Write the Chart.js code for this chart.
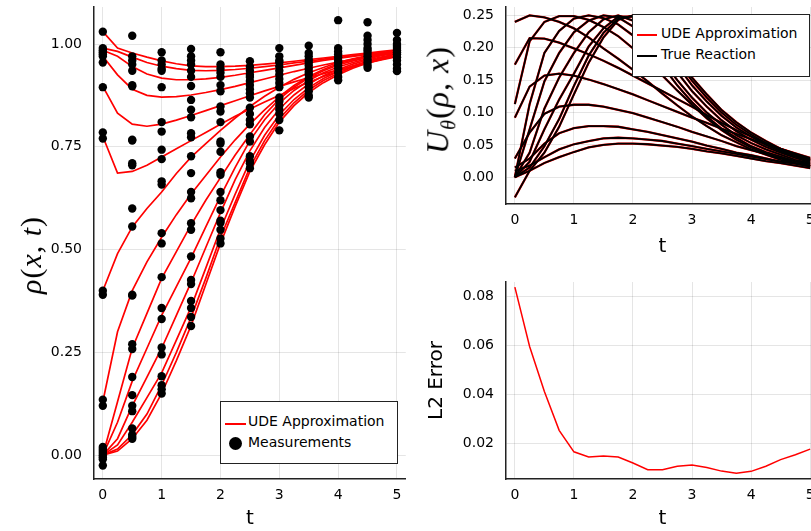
<!DOCTYPE html>
<html>
<head>
<meta charset="utf-8">
<script src="https://cdn.jsdelivr.net/npm/chart.js@4"></script>
<style>
  body { margin: 0; background: #fff; overflow: hidden; }
  #wrap { position: relative; width: 811px; height: 531px; overflow: hidden; background: #fff; }
  canvas { position: absolute; }
  .ytitle { position: absolute; transform: translate(-50%, -50%) rotate(-90deg); white-space: nowrap;
            font-family: "Liberation Serif", serif; color: #000; }
  .ytitle i { font-style: italic; }
  .legend { position: absolute; background: #fff; border: 1px solid #222; font-family: "DejaVu Sans", sans-serif; font-size: 14px; color: #000; }
  .legend span { position: absolute; white-space: nowrap; }
</style>
</head>
<body>
<div id="wrap">
  <canvas id="rhoChart" width="410" height="531" style="left:0;top:0"></canvas>
  <canvas id="uChart" width="411" height="259" style="left:410px;top:0"></canvas>
  <canvas id="errChart" width="411" height="266" style="left:410px;top:265px"></canvas>

  <div class="ytitle" style="left:31px;top:255px;font-size:30px;letter-spacing:1px"><i>ρ</i>(<i>x</i>, <i>t</i>)</div>
  <div class="ytitle" style="left:440px;top:100px;font-size:32px;letter-spacing:1px"><i>U</i><sub style="font-size:20px"><i>θ</i></sub>(<i>ρ</i>, <i>x</i>)</div>

  <div class="legend" style="left:220px;top:401px;width:176px;height:61px">
    <span style="left:4px;top:21px;width:21px;border-top:2px solid #f00"></span>
    <span style="left:27px;top:11px">UDE Approximation</span>
    <span style="left:8px;top:35px;width:13px;height:13px;border-radius:50%;background:#000"></span>
    <span style="left:27px;top:32px">Measurements</span>
  </div>
  <div class="legend" style="left:632px;top:14px;width:176px;height:61px">
    <span style="left:4px;top:19px;width:20px;border-top:2px solid #f00"></span>
    <span style="left:28px;top:10px">UDE Approximation</span>
    <span style="left:4px;top:40px;width:20px;border-top:2px solid #000"></span>
    <span style="left:28px;top:31px">True Reaction</span>
  </div>
</div>

<script>
// time grid of the solutions and of the reaction/error curves
var tGrid = [0, 0.25, 0.5, 0.75, 1, 1.25, 1.5, 1.75, 2, 2.25, 2.5, 2.75, 3, 3.25, 3.5, 3.75, 4, 4.25, 4.5, 4.75, 5];
var tTicks = [0, 1, 2, 3, 4, 5];
var rhoTicks = [0, 0.25, 0.5, 0.75, 1.0];
var uTicks = [0, 0.05, 0.1, 0.15, 0.2, 0.25];
var errTicks = [0.02, 0.04, 0.06, 0.08];

// rho(x,t), one curve per x location
var rhoH1 = [1.03, 0.99, 0.978, 0.968, 0.959, 0.952, 0.947, 0.945, 0.945, 0.946, 0.948, 0.951, 0.954, 0.958, 0.962, 0.966, 0.97, 0.974, 0.978, 0.982, 0.986];
var rhoH2 = [0.99, 0.982, 0.968, 0.955, 0.946, 0.94, 0.936, 0.935, 0.936, 0.938, 0.941, 0.945, 0.949, 0.954, 0.958, 0.963, 0.967, 0.971, 0.975, 0.979, 0.983];
var rhoH3 = [0.985, 0.97, 0.945, 0.927, 0.917, 0.913, 0.913, 0.915, 0.919, 0.924, 0.93, 0.936, 0.942, 0.948, 0.954, 0.96, 0.965, 0.97, 0.975, 0.979, 0.983];
var rhoH4 = [0.97, 0.925, 0.89, 0.875, 0.871, 0.872, 0.876, 0.882, 0.889, 0.897, 0.906, 0.915, 0.924, 0.933, 0.941, 0.949, 0.956, 0.963, 0.969, 0.975, 0.98];
var rhoH5 = [0.897, 0.832, 0.805, 0.80, 0.805, 0.815, 0.826, 0.838, 0.85, 0.862, 0.874, 0.886, 0.897, 0.908, 0.918, 0.928, 0.937, 0.946, 0.954, 0.962, 0.969];
var rhoH6 = [0.775, 0.686, 0.69, 0.705, 0.725, 0.745, 0.765, 0.785, 0.805, 0.824, 0.842, 0.859, 0.875, 0.892, 0.907, 0.921, 0.933, 0.944, 0.954, 0.963, 0.971];
var rhoM1 = [0.40, 0.49, 0.555, 0.60, 0.64, 0.685, 0.725, 0.758, 0.79, 0.82, 0.848, 0.873, 0.895, 0.914, 0.93, 0.943, 0.955, 0.964, 0.972, 0.978, 0.983];
var rhoM2 = [0.13, 0.30, 0.40, 0.47, 0.53, 0.585, 0.635, 0.68, 0.725, 0.767, 0.805, 0.84, 0.872, 0.899, 0.921, 0.938, 0.952, 0.962, 0.97, 0.977, 0.982];
var rhoZ1 = [0, 0.13, 0.26, 0.345, 0.43, 0.495, 0.56, 0.62, 0.675, 0.73, 0.78, 0.828, 0.866, 0.895, 0.918, 0.935, 0.949, 0.959, 0.967, 0.974, 0.98];
var rhoZ2 = [0, 0.08, 0.18, 0.26, 0.34, 0.41, 0.48, 0.555, 0.63, 0.70, 0.765, 0.816, 0.856, 0.887, 0.911, 0.93, 0.944, 0.955, 0.964, 0.972, 0.978];
var rhoZ3 = [0, 0.04, 0.12, 0.19, 0.26, 0.34, 0.42, 0.505, 0.59, 0.67, 0.74, 0.797, 0.842, 0.876, 0.903, 0.923, 0.938, 0.951, 0.961, 0.969, 0.976];
var rhoZ4 = [0, 0.025, 0.08, 0.14, 0.20, 0.28, 0.36, 0.455, 0.55, 0.635, 0.715, 0.778, 0.828, 0.865, 0.894, 0.916, 0.933, 0.947, 0.958, 0.967, 0.974];
var rhoZ5 = [0, 0.015, 0.05, 0.10, 0.17, 0.25, 0.335, 0.43, 0.53, 0.615, 0.70, 0.765, 0.818, 0.857, 0.888, 0.911, 0.929, 0.944, 0.956, 0.966, 0.973];
var rhoL0 = [0, 0.01, 0.04, 0.085, 0.15, 0.23, 0.315, 0.415, 0.515, 0.605, 0.69, 0.755, 0.81, 0.85, 0.882, 0.906, 0.925, 0.941, 0.954, 0.964, 0.972];

// measurements, grouped by sample time
var measTimes = [0, 0.5, 1, 1.5, 2, 2.5, 3, 3.5, 4, 4.5, 5];
var meas0 = [1.03, 0.99, 0.985, 0.98, 0.975, 0.97, 0.955, 0.895, 0.785, 0.77, 0.40, 0.39, 0.135, 0.12, 0.02, 0.015, 0.01, 0.005, 0.0, -0.005, -0.01, -0.025];
var meas05 = [1.02, 0.97, 0.96, 0.95, 0.935, 0.90, 0.897, 0.767, 0.765, 0.71, 0.705, 0.60, 0.556, 0.39, 0.388, 0.27, 0.258, 0.19, 0.146, 0.12, 0.107, 0.065, 0.05, 0.045, 0.04];
var meas1 = [0.98, 0.96, 0.95, 0.94, 0.935, 0.895, 0.81, 0.787, 0.743, 0.72, 0.666, 0.658, 0.54, 0.515, 0.433, 0.358, 0.331, 0.262, 0.245, 0.192, 0.17, 0.16, 0.15];
var meas15 = [0.988, 0.97, 0.96, 0.95, 0.935, 0.92, 0.898, 0.864, 0.84, 0.822, 0.783, 0.773, 0.727, 0.686, 0.64, 0.625, 0.564, 0.548, 0.483, 0.426, 0.416, 0.375, 0.358, 0.336, 0.314];
var meas2 = [0.98, 0.95, 0.94, 0.93, 0.92, 0.90, 0.885, 0.848, 0.836, 0.81, 0.763, 0.758, 0.738, 0.688, 0.682, 0.64, 0.62, 0.596, 0.57, 0.565, 0.548, 0.527, 0.515];
var meas25 = [0.958, 0.945, 0.935, 0.925, 0.92, 0.91, 0.9, 0.89, 0.88, 0.87, 0.845, 0.83, 0.815, 0.805, 0.775, 0.763, 0.727, 0.715, 0.71, 0.698];
var meas3 = [0.99, 0.97, 0.96, 0.955, 0.945, 0.935, 0.925, 0.915, 0.905, 0.895, 0.87, 0.86, 0.85, 0.84, 0.83, 0.815, 0.79];
var meas35 = [0.996, 0.978, 0.97, 0.962, 0.955, 0.948, 0.94, 0.932, 0.925, 0.915, 0.905, 0.895, 0.885, 0.875, 0.87];
var meas4 = [1.058, 0.99, 0.982, 0.975, 0.968, 0.96, 0.955, 0.948, 0.94, 0.93, 0.92, 0.912];
var meas45 = [1.053, 1.02, 1.01, 1.0, 0.99, 0.985, 0.978, 0.97, 0.962, 0.955, 0.948, 0.942];
var meas5 = [1.027, 1.01, 1.0, 0.995, 0.99, 0.985, 0.98, 0.975, 0.968, 0.96, 0.95, 0.94, 0.934];

// reaction term U(rho, x) along each curve
var uH1 = [-0.031, 0.010, 0.022, 0.031, 0.039, 0.046, 0.050, 0.052, 0.052, 0.051, 0.049, 0.047, 0.044, 0.040, 0.037, 0.033, 0.029, 0.025, 0.022, 0.018, 0.014];
var uH2 = [0.010, 0.018, 0.031, 0.043, 0.051, 0.056, 0.060, 0.061, 0.060, 0.058, 0.056, 0.052, 0.048, 0.044, 0.040, 0.036, 0.032, 0.028, 0.024, 0.021, 0.017];
var uH3 = [0.015, 0.029, 0.052, 0.068, 0.076, 0.079, 0.079, 0.078, 0.074, 0.070, 0.065, 0.060, 0.055, 0.049, 0.044, 0.038, 0.034, 0.029, 0.024, 0.021, 0.017];
var uH4 = [0.029, 0.069, 0.098, 0.109, 0.112, 0.112, 0.109, 0.104, 0.099, 0.092, 0.085, 0.078, 0.070, 0.063, 0.056, 0.048, 0.042, 0.036, 0.030, 0.024, 0.020];
var uH5 = [0.092, 0.140, 0.157, 0.160, 0.157, 0.151, 0.144, 0.136, 0.128, 0.119, 0.110, 0.101, 0.092, 0.084, 0.075, 0.067, 0.059, 0.051, 0.044, 0.037, 0.030];
var uH6 = [0.174, 0.215, 0.214, 0.208, 0.199, 0.190, 0.180, 0.169, 0.157, 0.145, 0.133, 0.121, 0.109, 0.096, 0.084, 0.073, 0.063, 0.053, 0.044, 0.036, 0.028];
var uM1 = [0.240, 0.250, 0.247, 0.240, 0.230, 0.216, 0.199, 0.183, 0.166, 0.148, 0.129, 0.111, 0.094, 0.079, 0.065, 0.054, 0.043, 0.035, 0.027, 0.022, 0.017];
var uM2 = [0.113, 0.210, 0.240, 0.249, 0.249, 0.243, 0.232, 0.218, 0.199, 0.179, 0.157, 0.134, 0.112, 0.091, 0.073, 0.058, 0.046, 0.037, 0.029, 0.022, 0.018];
var uZ1 = [0, 0.113, 0.192, 0.226, 0.245, 0.250, 0.246, 0.236, 0.219, 0.197, 0.172, 0.142, 0.116, 0.094, 0.075, 0.061, 0.048, 0.039, 0.032, 0.025, 0.020];
var uZ2 = [0, 0.074, 0.148, 0.192, 0.224, 0.242, 0.250, 0.247, 0.233, 0.210, 0.180, 0.150, 0.123, 0.100, 0.081, 0.065, 0.053, 0.043, 0.035, 0.027, 0.022];
var uZ3 = [0, 0.038, 0.106, 0.154, 0.192, 0.224, 0.244, 0.250, 0.242, 0.221, 0.192, 0.162, 0.133, 0.109, 0.088, 0.071, 0.058, 0.047, 0.038, 0.030, 0.023];
var uZ4 = [0, 0.024, 0.074, 0.120, 0.160, 0.202, 0.230, 0.248, 0.248, 0.232, 0.204, 0.173, 0.142, 0.117, 0.095, 0.077, 0.063, 0.050, 0.040, 0.032, 0.025];
var uZ5 = [0, 0.015, 0.048, 0.090, 0.141, 0.188, 0.223, 0.245, 0.249, 0.237, 0.210, 0.180, 0.149, 0.123, 0.100, 0.081, 0.066, 0.053, 0.042, 0.033, 0.026];
var uL0 = [0, 0.010, 0.038, 0.078, 0.128, 0.177, 0.216, 0.243, 0.250, 0.239, 0.214, 0.185, 0.154, 0.128, 0.104, 0.085, 0.069, 0.056, 0.044, 0.035, 0.027];

// L2 error of the learned reaction over time
var l2Error = [0.0838, 0.0595, 0.0411, 0.0252, 0.0164, 0.0143, 0.0147, 0.0143, 0.0118, 0.0091, 0.0091, 0.0105, 0.0110, 0.0100, 0.0085, 0.0076, 0.0084, 0.0105, 0.0132, 0.0152, 0.0175];

var rhoCurves = [rhoH1, rhoH2, rhoH3, rhoH4, rhoH5, rhoH6, rhoM1, rhoM2, rhoZ1, rhoZ2, rhoZ3, rhoZ4, rhoZ5, rhoL0];
var uCurves = [uH1, uH2, uH3, uH4, uH5, uH6, uM1, uM2, uZ1, uZ2, uZ3, uZ4, uZ5, uL0];
var measLists = [meas0, meas05, meas1, meas15, meas2, meas25, meas3, meas35, meas4, meas45, meas5];

var FONT = "DejaVu Sans";
var GRID = "rgba(0,0,0,0.1)";

let toPoints = (ys) => ys.map((y, i) => ({x: tGrid[i], y: y}));

let xAxis = (h, title) => ({
  type: "linear", min: -0.15, max: 5.15,
  afterBuildTicks: s => { s.ticks = tTicks.map(v => ({value: v})); },
  afterFit: s => { s.height = h; s.paddingLeft = 0; s.paddingRight = 0; },
  grid: {color: GRID, drawTicks: false},
  border: {color: "#222", width: 1.5},
  ticks: {color: "#000", padding: 8, font: {family: FONT, size: 14}, callback: v => String(v)},
  title: {display: true, text: title, color: "#000", font: {family: FONT, size: 20}, padding: {top: 0, bottom: 0}}
});

let yAxis = (min, max, ticks, width, title) => ({
  type: "linear", min: min, max: max,
  afterBuildTicks: s => { s.ticks = ticks.map(v => ({value: v})); },
  afterFit: s => { s.width = width; s.paddingTop = 0; s.paddingBottom = 0; },
  grid: {color: GRID, drawTicks: false},
  border: {color: "#222", width: 1.5},
  ticks: {color: "#000", padding: 12, font: {family: FONT, size: 14}, callback: v => v.toFixed(2)},
  title: title ? {display: true, text: title, color: "#000", font: {family: FONT, size: 20}, padding: {top: 15, bottom: 0}} : {display: false}
});

let baseOptions = (pad, scales) => ({
  responsive: false,
  animation: false,
  layout: {padding: pad},
  plugins: {legend: {display: false}, tooltip: {enabled: false}},
  elements: {point: {radius: 0}, line: {tension: 0}},
  scales: scales
});

// left panel: solutions and measurements
var rhoSets = rhoCurves.map(c => ({
  type: "line", data: toPoints(c), borderColor: "#ff0000", borderWidth: 1.7, pointRadius: 0, order: 2
}));
var measPoints = [];
measLists.forEach((list, i) => list.forEach(v => measPoints.push({x: measTimes[i], y: v})));
rhoSets.push({type: "scatter", data: measPoints, backgroundColor: "#000", borderWidth: 0, pointRadius: 4.2, order: 0});

new Chart("rhoChart", {
  type: "line",
  data: {datasets: rhoSets},
  options: baseOptions({top: 7, right: 2, left: 0, bottom: 0}, {
    x: xAxis(52, "t"),
    y: yAxis(-0.058, 1.09, rhoTicks, 94, null)
  })
});

// top right: learned vs true reaction
var uSets = [];
uCurves.forEach(c => {
  uSets.push({data: toPoints(c), borderColor: "#ff0000", borderWidth: 2.3, pointRadius: 0, order: 2});
  uSets.push({data: toPoints(c), borderColor: "#000", borderWidth: 1.8, pointRadius: 0, order: 1});
});

new Chart("uChart", {
  type: "line",
  data: {datasets: uSets},
  options: baseOptions({top: 7, right: 2, left: 0, bottom: 0}, {
    x: xAxis(55, "t"),
    y: yAxis(-0.0413, 0.263, uTicks, 96, null)
  })
});

// bottom right: L2 error
new Chart("errChart", {
  type: "line",
  data: {datasets: [{data: toPoints(l2Error), borderColor: "#ff0000", borderWidth: 1.5, pointRadius: 0}]},
  options: baseOptions({top: 17, right: 2, left: 0, bottom: 0}, {
    x: xAxis(52, "t"),
    y: yAxis(0.00527, 0.0859, errTicks, 96, "L2 Error")
  })
});
</script>
</body>
</html>
